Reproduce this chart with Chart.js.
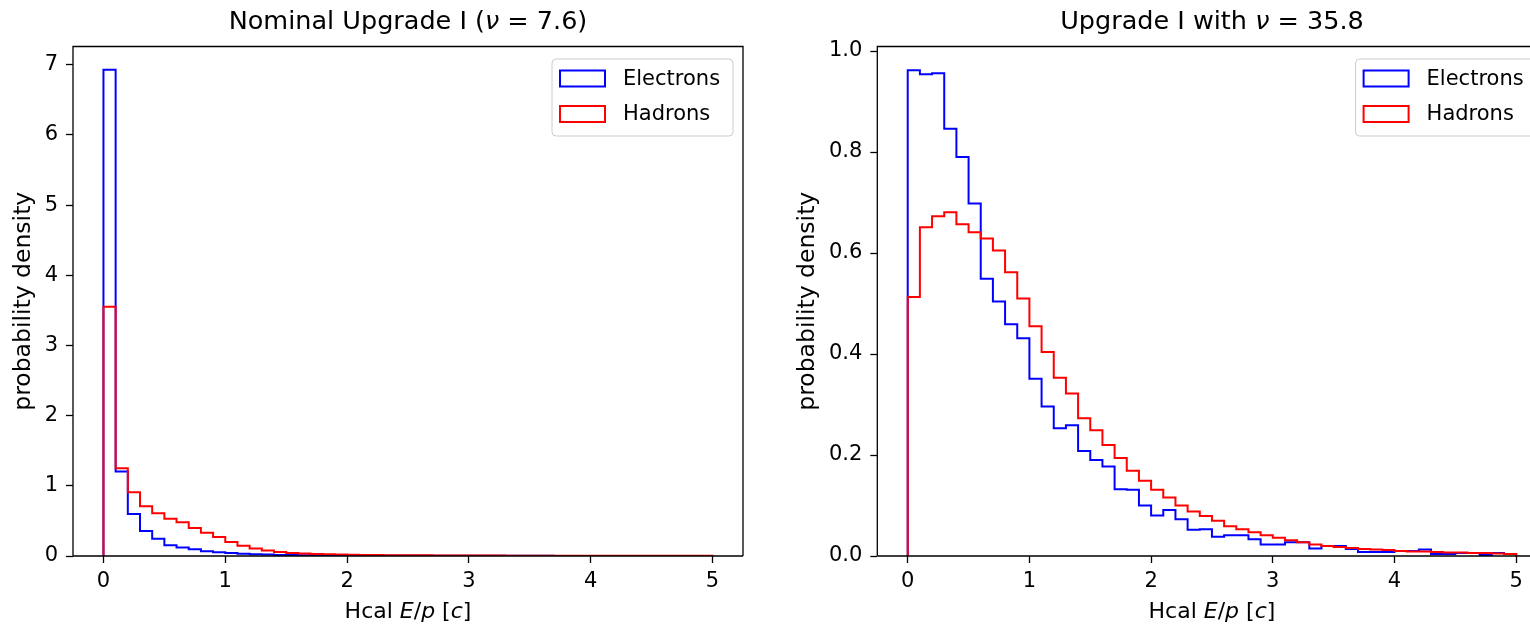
<!DOCTYPE html>
<html>
<head>
<meta charset="utf-8">
<script src="https://cdn.jsdelivr.net/npm/chart.js@4.4.1/dist/chart.umd.min.js"></script>
<style>
  html, body { margin: 0; padding: 0; background: #fff; overflow: hidden; width: 1530px; height: 630px; }
  .panel { position: absolute; top: 0; height: 630px; overflow: hidden; }
  #leftPanel { left: 0; width: 765px; }
  #rightPanel { left: 785px; width: 745px; }
</style>
</head>
<body>
<div class="panel" id="leftPanel"><canvas id="leftChart" width="765" height="630"></canvas></div>
<div class="panel" id="rightPanel"><canvas id="rightChart" width="770" height="630"></canvas></div>
<script>
// histogram bins: 50 bins of 0.1 from 0 to 5
const binEdges = Array.from({ length: 51 }, (_, i) => i / 10);
const seriesNames = ["Electrons", "Hadrons"];
const seriesColors = ["#0000ff", "#ff0000"];

// Nominal Upgrade I (nu = 7.6)
const leftElectrons = [6.93, 1.205, 0.60, 0.357, 0.246, 0.154, 0.12, 0.096, 0.068, 0.053,
  0.042, 0.033, 0.026, 0.020, 0.016, 0.013, 0.011, 0.009, 0.008, 0.007,
  0.006, 0.005, 0.005, 0.004, 0.004, 0.004, 0.003, 0.003, 0.003, 0.003,
  0.002, 0.002, 0.002, 0.002, 0.002, 0.002, 0.002, 0.001, 0.001, 0.001,
  0.001, 0.001, 0.001, 0.001, 0.001, 0.001, 0.001, 0.001, 0.001, 0.001];
const leftHadrons = [3.55, 1.25, 0.91, 0.71, 0.61, 0.53, 0.48, 0.40, 0.33, 0.27,
  0.20, 0.145, 0.106, 0.077, 0.058, 0.043, 0.035, 0.030, 0.025, 0.021,
  0.018, 0.016, 0.014, 0.012, 0.011, 0.010, 0.009, 0.008, 0.008, 0.007,
  0.007, 0.006, 0.006, 0.005, 0.005, 0.005, 0.004, 0.004, 0.004, 0.004,
  0.003, 0.003, 0.003, 0.003, 0.003, 0.003, 0.003, 0.003, 0.003, 0.003];

// Upgrade I with nu = 35.8
const rightElectrons = [0.962, 0.954, 0.956, 0.846, 0.790, 0.698, 0.549, 0.504, 0.459, 0.431,
  0.351, 0.296, 0.253, 0.259, 0.208, 0.190, 0.177, 0.132, 0.131, 0.100,
  0.080, 0.091, 0.073, 0.052, 0.053, 0.038, 0.041, 0.041, 0.033, 0.023,
  0.023, 0.027, 0.027, 0.015, 0.020, 0.020, 0.014, 0.008, 0.008, 0.008,
  0.010, 0.010, 0.013, 0.004, 0.004, 0.006, 0.006, 0.002, 0.006, 0.004];
const rightHadrons = [0.513, 0.651, 0.673, 0.681, 0.657, 0.641, 0.629, 0.605, 0.562, 0.510,
  0.455, 0.404, 0.353, 0.322, 0.273, 0.249, 0.220, 0.194, 0.169, 0.149,
  0.131, 0.116, 0.100, 0.088, 0.079, 0.070, 0.059, 0.053, 0.047, 0.041,
  0.036, 0.031, 0.027, 0.023, 0.020, 0.018, 0.016, 0.014, 0.013, 0.012,
  0.010, 0.009, 0.009, 0.008, 0.007, 0.007, 0.006, 0.006, 0.005, 0.004];

const xTickValues = [0, 1, 2, 3, 4, 5];
const leftYTicks = [0, 1, 2, 3, 4, 5, 6, 7];
const rightYTicks = [0, 0.2, 0.4, 0.6, 0.8, 1.0];

const FONT = "'DejaVu Sans', sans-serif";

// step outline like matplotlib histtype='step'
function histPoints(values) {
  const pts = [{ x: binEdges[0], y: 0 }];
  values.forEach((v, i) => pts.push({ x: binEdges[i], y: v }));
  pts.push({ x: binEdges[values.length], y: 0 });
  return pts;
}

function drawPieces(ctx, pieces, cx, cy, size) {
  let total = 0;
  pieces.forEach(p => {
    ctx.font = (p[1] ? "italic " : "") + size + "px " + FONT;
    total += ctx.measureText(p[0]).width;
  });
  let x = cx - total / 2;
  ctx.textAlign = "left";
  ctx.textBaseline = "middle";
  pieces.forEach(p => {
    ctx.font = (p[1] ? "italic " : "") + size + "px " + FONT;
    ctx.fillText(p[0], x, cy);
    x += ctx.measureText(p[0]).width;
  });
}

const panelText = {
  id: "panelText",
  afterDraw(chart, args, opts) {
    const ctx = chart.ctx;
    const a = chart.chartArea;
    ctx.save();
    // spines (right one only where it is inside the window)
    ctx.strokeStyle = "#000";
    ctx.lineWidth = 1.3;
    ctx.beginPath();
    ctx.moveTo(a.left, a.bottom);
    ctx.lineTo(a.left, a.top);
    ctx.lineTo(a.right, a.top);
    if (opts.rightSpine) ctx.lineTo(a.right, a.bottom);
    ctx.moveTo(a.left, a.bottom);
    ctx.lineTo(a.right, a.bottom);
    ctx.stroke();

    ctx.fillStyle = "#000";
    const cx = (a.left + a.right) / 2;
    drawPieces(ctx, opts.title, cx, 22, 25.5);
    drawPieces(ctx, opts.xLabel, cx, 612, 22);

    ctx.save();
    ctx.translate(opts.yLabelX, (a.top + a.bottom) / 2);
    ctx.rotate(-Math.PI / 2);
    drawPieces(ctx, [["probability density", false]], 0, 0, 23.5);
    ctx.restore();

    // legend
    const bw = 181, bh = 77;
    const bx = a.right - 10 - bw, by = a.top + 12.5;
    ctx.beginPath();
    ctx.roundRect(bx, by, bw, bh, 4);
    ctx.fillStyle = "rgba(255,255,255,0.8)";
    ctx.fill();
    ctx.strokeStyle = "#cccccc";
    ctx.lineWidth = 1;
    ctx.stroke();
    chart.data.datasets.forEach((ds, i) => {
      const cy = by + 19.5 + i * 35.5;
      ctx.strokeStyle = ds.borderColor;
      ctx.lineWidth = 2;
      ctx.strokeRect(bx + 8, cy - 8, 45, 16);
      ctx.fillStyle = "#000";
      ctx.font = "21px " + FONT;
      ctx.textAlign = "left";
      ctx.textBaseline = "middle";
      ctx.fillText(ds.label, bx + 71, cy + 1);
    });
    ctx.restore();
  }
};

function makeChart(id, electrons, hadrons, yTicks, yMax, yWidth, padRight, fmt, text) {
  const series = [electrons, hadrons];
  return new Chart(document.getElementById(id), {
    type: "line",
    data: {
      datasets: series.map((vals, i) => ({
        label: seriesNames[i],
        data: histPoints(vals),
        borderColor: seriesColors[i],
        borderWidth: 2,
        pointRadius: 0,
        fill: false,
        stepped: true,
        order: i === 0 ? 1 : 0
      }))
    },
    options: {
      responsive: false,
      animation: false,
      layout: { padding: { top: 46.5, right: padRight, bottom: 0, left: 0 } },
      scales: {
        x: {
          type: "linear",
          min: -0.25,
          max: 5.25,
          afterBuildTicks: s => { s.ticks = xTickValues.map(v => ({ value: v })); },
          afterFit: s => { s.height = 74; },
          grid: { drawOnChartArea: false, tickLength: 7, color: "#000", tickWidth: 1.3 },
          border: { display: false },
          ticks: { padding: 6, color: "#000", font: { family: FONT, size: 21 }, maxRotation: 0, autoSkip: false }
        },
        y: {
          min: 0,
          max: yMax,
          afterBuildTicks: s => { s.ticks = yTicks.map(v => ({ value: v })); },
          afterFit: s => { s.width = yWidth; },
          grid: { drawOnChartArea: false, tickLength: 7, color: "#000", tickWidth: 1.3 },
          border: { display: false },
          ticks: { padding: 8, color: "#000", font: { family: FONT, size: 21 }, callback: fmt }
        }
      },
      plugins: {
        legend: { display: false },
        tooltip: { enabled: false },
        panelText: text
      }
    },
    plugins: [panelText]
  });
}

makeChart("leftChart", leftElectrons, leftHadrons, leftYTicks, 7.26, 73, 22,
  v => String(v),
  {
    title: [["Nominal Upgrade I (", false], ["\u03bd", true], [" = 7.6)", false]],
    xLabel: [["Hcal ", false], ["E", true], ["/", false], ["p", true], [" [", false], ["c", true], ["]", false]],
    yLabelX: 24,
    rightSpine: true
  });

makeChart("rightChart", rightElectrons, rightHadrons, rightYTicks, 1.009, 92.3, 8.4,
  v => v.toFixed(1),
  {
    title: [["Upgrade I with ", false], ["\u03bd", true], [" = 35.8", false]],
    xLabel: [["Hcal ", false], ["E", true], ["/", false], ["p", true], [" [", false], ["c", true], ["]", false]],
    yLabelX: 23,
    rightSpine: false
  });
</script>
</body>
</html>
